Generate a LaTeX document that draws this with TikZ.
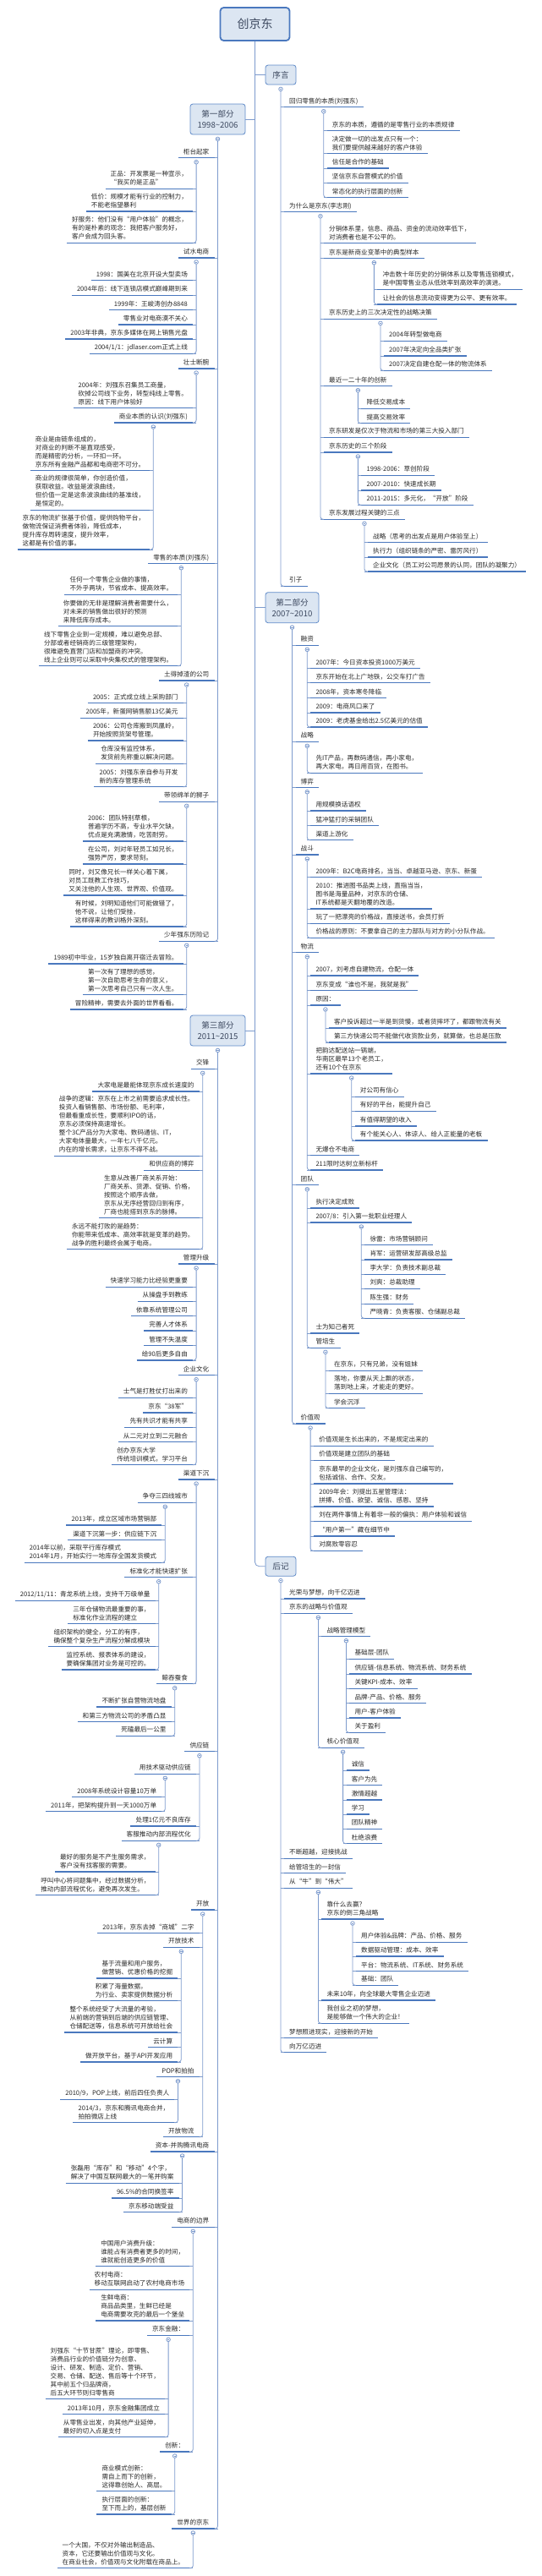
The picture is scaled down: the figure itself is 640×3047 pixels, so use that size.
\documentclass[tikz,border=0pt]{standalone}
\usepackage{fontspec}
\setmainfont{Noto Sans CJK SC}
\usetikzlibrary{calc}
\definecolor{ulc}{RGB}{74,120,190}
\definecolor{cnc}{RGB}{125,155,205}
\definecolor{txt}{RGB}{40,40,40}
\definecolor{boxfill}{RGB}{220,230,242}
\definecolor{boxdraw}{RGB}{95,138,200}
\definecolor{boxtext}{RGB}{60,72,95}
\tikzset{
  topic/.style={font=\fontsize{7.6}{10}\selectfont, text=txt, inner xsep=6pt, inner ysep=2.9pt, text depth=1.6pt, align=left},
  ul/.style={draw=ulc, line width=1.5pt},
  conn/.style={draw=cnc, line width=0.8pt},
  mainbox/.style={draw=boxdraw, fill=boxfill, line width=0.8pt, rounded corners=3pt, font=\fontsize{9.6}{12.7}\selectfont, text=boxtext, align=center, inner sep=0pt},
  rootbox/.style={draw=ulc, fill=boxfill, line width=1.8pt, rounded corners=4pt, font=\fontsize{14}{16}\selectfont, text=boxtext, inner sep=0pt}
}
\newcommand\myR[4]{%
  \coordinate (tmpy) at (0,-#3);
  \node[topic, anchor=south west] (#1) at ($(#2.south |- tmpy)+(4,0)$) {#4};
  \draw[ul] (#1.south west) -- (#1.south east);
  \draw[conn] (#1.south west) -- ++(-4,0);
}
\newcommand\myL[4]{%
  \coordinate (tmpy) at (0,-#3);
  \node[topic, anchor=south east] (#1) at ($(#2.south |- tmpy)+(-4,0)$) {#4};
  \draw[ul] (#1.south west) -- (#1.south east);
  \draw[conn] (#1.south east) -- ++(4,0);
}
\newcommand\myCirc[1]{%
  \draw[conn, fill=white] ($(#1.south)+(0,-5)$) circle (2.3);
  \draw[conn, line width=0.5pt] ($(#1.south)+(-1.2,-5)$) -- ++(2.4,0);
}
\newcommand\myVR[2]{%
  \draw[conn, rounded corners=3pt] ($(#1.south)+(0,-7.3)$) |- (#2.south west);
  \myCirc{#1}
}
\newcommand\myVL[2]{%
  \draw[conn, rounded corners=3pt] ($(#1.south)+(0,-7.3)$) |- (#2.south east);
  \myCirc{#1}
}
\begin{document}
\begin{tikzpicture}[x=1pt,y=1pt]
\fill[white] (0,0) rectangle (640,-3047);
\useasboundingbox (0,0) rectangle (640,-3047);

% main boxes
\node[rootbox, minimum width=82pt, minimum height=39pt] (root) at (301.5,-28.5) {创京东};
\node[mainbox, minimum width=36pt, minimum height=23pt] (xuyan) at (332,-88.5) {序言};
\node[mainbox, minimum width=65pt, minimum height=36pt] (p1) at (257.5,-141) {第一部分\\1998\textasciitilde2006};
\node[mainbox, minimum width=63pt, minimum height=36pt] (p2) at (345.5,-718.7) {第二部分\\2007\textasciitilde2010};
\node[mainbox, minimum width=65pt, minimum height=36pt] (p3) at (257.5,-1219) {第三部分\\2011\textasciitilde2015};
\node[mainbox, minimum width=36pt, minimum height=23pt] (hj) at (332,-1852.7) {后记};

% trunk
\draw[conn, rounded corners=5pt] (root.south) |- (hj.west);
\draw[conn] (xuyan.west) -- (xuyan.west -| root.south);
\draw[conn] (p1.east) -- (p1.east -| root.south);
\draw[conn] (p2.west) -- (p2.west -| root.south);
\draw[conn] (p3.east) -- (p3.east -| root.south);

% ===== 序言 =====
\myR{a1}{xuyan}{126.7}{回归零售的本质(刘强东)}
 \myR{a11}{a1}{154.7}{京东的本质，遵循的是零售行业的本质规律}
 \myR{a12}{a1}{181.7}{决定做一切的出发点只有一个：\\我们要提供越来越好的客户体验}
 \myR{a13}{a1}{199}{信任是合作的基础}
 \myR{a14}{a1}{216.3}{坚信京东自营模式的价值}
 \myR{a15}{a1}{233.7}{常态化的执行层面的创新}
 \myVR{a1}{a15}
\myR{a2}{xuyan}{250.7}{为什么是京东(李志刚)}
 \myR{a21}{a2}{287.7}{分销体系里，信息、商品、资金的流动效率低下，\\对消费者也是不公平的。}
 \myR{a22}{a2}{305.7}{京东是新商业变革中的典型样本}
  \myR{a221}{a22}{342.3}{冲击数十年历史的分销体系以及零售连锁模式，\\是中国零售业态从低效率到高效率的演进。}
  \myR{a222}{a22}{360}{让社会的信息流动变得更为公平、更有效率。}
  \myVR{a22}{a222}
 \myR{a23}{a2}{377.3}{京东历史上的三次决定性的战略决策}
  \myR{a231}{a23}{403.3}{2004年转型做电商}
  \myR{a232}{a23}{421}{2007年决定向全品类扩张}
  \myR{a233}{a23}{438.3}{2007决定自建仓配一体的物流体系}
  \myVR{a23}{a233}
 \myR{a24}{a2}{456.7}{最近一二十年的创新}
  \myR{a241}{a24}{483.3}{降低交易成本}
  \myR{a242}{a24}{500.7}{提高交易效率}
  \myVR{a24}{a242}
 \myR{a25}{a2}{517.3}{京东研发是仅次于物流和市场的第三大投入部门}
 \myR{a26}{a2}{535}{京东历史的三个阶段}
  \myR{a261}{a26}{562.3}{1998-2006：草创阶段}
  \myR{a262}{a26}{580}{2007-2010：快速成长期}
  \myR{a263}{a26}{597.3}{2011-2015：多元化，“开放”阶段}
  \myVR{a26}{a263}
 \myR{a27}{a2}{614.3}{京东发展过程关键的三点}
  \myR{a271}{a27}{641.7}{战略（思考的出发点是用户体验至上）}
  \myR{a272}{a27}{659}{执行力（组织链条的严密、雷厉风行）}
  \myR{a273}{a27}{676}{企业文化（员工对公司愿景的认同，团队的凝聚力）}
  \myVR{a27}{a273}
 \myVR{a2}{a27}
\myR{a3}{xuyan}{693.3}{引子}
\myVR{xuyan}{a3}

% ===== 第二部分 =====
\myR{b1}{p2}{763.3}{融资}
 \myR{b11}{b1}{790.7}{2007年：今日资本投资1000万美元}
 \myR{b12}{b1}{807.7}{京东开始在北上广地铁，公交车打广告}
 \myR{b13}{b1}{825.7}{2008年，资本寒冬降临}
 \myR{b14}{b1}{843}{2009：电商风口来了}
 \myR{b15}{b1}{860}{2009：老虎基金给出2.5亿美元的估值}
 \myVR{b1}{b15}
\myR{b2}{p2}{877.3}{战略}
 \myR{b21}{b2}{914.3}{先IT产品，再数码通信，再小家电，\\再大家电，再日用百货，在图书。}
 \myVR{b2}{b21}
\myR{b3}{p2}{931.7}{博弈}
 \myR{b31}{b3}{959}{用规模换话语权}
 \myR{b32}{b3}{976.7}{猛冲猛打的采销团队}
 \myR{b33}{b3}{993.7}{渠道上游化}
 \myVR{b3}{b33}
\myR{b4}{p2}{1011}{战斗}
 \myR{b41}{b4}{1037.7}{2009年：B2C电商排名，当当、卓越亚马逊、京东、新蛋}
 \myR{b42}{b4}{1075}{2010：推进图书品类上线，直指当当，\\图书是海量品种，对京东的仓储、\\IT系统都是天翻地覆的改造。}
 \myR{b43}{b4}{1092.3}{玩了一把漂亮的价格战，直接送书，会员打折}
 \myR{b44}{b4}{1109.3}{价格战的原则：不要拿自己的主力部队与对方的小分队作战。}
 \myVR{b4}{b44}
\myR{b5}{p2}{1126.7}{物流}
 \myR{b51}{b5}{1154}{2007，刘考虑自建物流，仓配一体}
 \myR{b52}{b5}{1171.7}{京东变成“谁也不是，我就是我”}
 \myR{b53}{b5}{1189}{原因：}
  \myR{b531}{b53}{1216}{客户投诉超过一半是到货慢，或者货摔坏了，都跟物流有关}
  \myR{b532}{b53}{1233}{第三方快递公司不能做代收货款业务，就算做，也总是压款}
  \myVR{b53}{b532}
 \myR{b54}{b5}{1270}{把韵达配送站一锅端，\\华南区最早13个老员工，\\还有10个在京东}
  \myR{b541}{b54}{1297.3}{对公司有信心}
  \myR{b542}{b54}{1314.3}{有好的平台，能提升自己}
  \myR{b543}{b54}{1332}{有值得期望的收入}
  \myR{b544}{b54}{1349}{有个能关心人、体谅人、给人正能量的老板}
  \myVR{b54}{b544}
 \myR{b55}{b5}{1366.7}{无爆仓不电商}
 \myR{b56}{b5}{1384}{211限时达树立新标杆}
 \myVR{b5}{b56}
\myR{b6}{p2}{1401.7}{团队}
 \myR{b61}{b6}{1429}{执行决定成败}
 \myR{b62}{b6}{1446}{2007/8：引入第一批职业经理人}
  \myR{b621}{b62}{1472.7}{徐雷：市场营销顾问}
  \myR{b622}{b62}{1490}{肖军：运营研发部高级总监}
  \myR{b623}{b62}{1507.3}{李大学：负责技术副总裁}
  \myR{b624}{b62}{1524.3}{刘爽：总裁助理}
  \myR{b625}{b62}{1542.3}{陈生强：财务}
  \myR{b626}{b62}{1559.3}{严晓青：负责客服、仓储副总裁}
  \myVR{b62}{b626}
 \myR{b63}{b6}{1577}{士为知己者死}
 \myR{b64}{b6}{1594.3}{管培生}
  \myR{b641}{b64}{1621.3}{在京东，只有兄弟，没有姐妹}
  \myR{b642}{b64}{1648.3}{落地，你要从天上飘的状态，\\落到地上来，才能走的更好。}
  \myR{b643}{b64}{1665.7}{学会沉浮}
  \myVR{b64}{b643}
 \myVR{b6}{b64}
\myR{b7}{p2}{1684}{价值观}
 \myR{b71}{b7}{1710.3}{价值观是生长出来的，不是规定出来的}
 \myR{b72}{b7}{1727.3}{价值观是建立团队的基础}
 \myR{b73}{b7}{1755}{京东最早的企业文化，是刘强东自己编写的，\\包括诚信、合作、交友。}
 \myR{b74}{b7}{1782}{2009年会：刘提出五星管理法：\\拼搏、价值、欲望、诚信、感恩、坚持}
 \myR{b75}{b7}{1799.3}{刘在两件事情上有着非一般的偏执：用户体验和诚信}
 \myR{b76}{b7}{1817}{“用户第一”藏在细节中}
 \myR{b77}{b7}{1834.3}{对腐败零容忍}
 \myVR{b7}{b77}
\myVR{p2}{b7}

% ===== 后记 =====
\myR{c1}{hj}{1891}{光荣与梦想，向千亿迈进}
\myR{c2}{hj}{1908.3}{京东的战略与价值观}
 \myR{c21}{c2}{1935.7}{战略管理模型}
  \myR{c211}{c21}{1962.3}{基础层-团队}
  \myR{c212}{c21}{1980}{供应链-信息系统、物流系统、财务系统}
  \myR{c213}{c21}{1997.3}{关键KPI-成本、效率}
  \myR{c214}{c21}{2014.7}{品牌-产品、价格、服务}
  \myR{c215}{c21}{2032}{用户-客户体验}
  \myR{c216}{c21}{2049.3}{关于盈利}
  \myVR{c21}{c216}
 \myR{c22}{c2}{2067.3}{核心价值观}
  \myR{c221}{c22}{2094}{诚信}
  \myR{c222}{c22}{2111.7}{客户为先}
  \myR{c223}{c22}{2129}{激情超越}
  \myR{c224}{c22}{2146}{学习}
  \myR{c225}{c22}{2163.3}{团队精神}
  \myR{c226}{c22}{2180.7}{杜绝浪费}
  \myVR{c22}{c226}
 \myVR{c2}{c22}
\myR{c3}{hj}{2198.3}{不断超越，迎接挑战}
\myR{c4}{hj}{2215.7}{给管培生的一封信}
\myR{c5}{hj}{2233.3}{从“牛”到“伟大”}
 \myR{c51}{c5}{2270}{靠什么去赢？\\京东的倒三角战略}
  \myR{c511}{c51}{2297.3}{用户体验\&品牌：产品、价格、服务}
  \myR{c512}{c51}{2314}{数据驱动管理：成本、效率}
  \myR{c513}{c51}{2331.7}{平台：物流系统、IT系统、财务系统}
  \myR{c514}{c51}{2348.3}{基础：团队}
  \myVR{c51}{c514}
 \myR{c52}{c5}{2366}{未来10年，向全球最大零售企业迈进}
 \myR{c53}{c5}{2393.3}{我创业之初的梦想，\\是能够做一个伟大的企业！}
 \myVR{c5}{c53}
\myR{c6}{hj}{2410.7}{梦想照进现实，迎接新的开始}
\myR{c7}{hj}{2427.7}{向万亿迈进}
\myVR{hj}{c7}

% ===== 第一部分 =====
\myL{d1}{p1}{186.7}{柜台起家}
 \myL{d11}{d1}{223.3}{正品：开发票是一种宣示，\\“我买的是正品”}
 \myL{d12}{d1}{250}{低价：规模才能有行业的控制力，\\不能老指望暴利}
 \myL{d13}{d1}{287.3}{好服务：他们没有“用户体验”的概念，\\有的是朴素的观念：我把客户服务好，\\客户会成为回头客。}
 \myVL{d1}{d13}
\myL{d2}{p1}{305}{试水电商}
 \myL{d21}{d2}{331.7}{1998：国美在北京开设大型卖场}
 \myL{d22}{d2}{349.3}{2004年后：线下连锁店模式巅峰期到来}
 \myL{d23}{d2}{366.7}{1999年：王峻涛创办8848}
 \myL{d24}{d2}{384}{零售业对电商漠不关心}
 \myL{d25}{d2}{401}{2003年非典，京东多媒体在网上销售光盘}
 \myL{d26}{d2}{418.3}{2004/1/1：jdlaser.com正式上线}
 \myVL{d2}{d26}
\myL{d3}{p1}{436}{壮士断腕}
 \myL{d31}{d3}{482.7}{2004年：刘强东召集员工商量，\\砍掉公司线下业务，转型纯线上零售。\\原因：线下用户体验好}
 \myL{d32}{d3}{500}{商业本质的认识(刘强东)}
  \myL{d321}{d32}{556.7}{商业是由链条组成的，\\对商业的判断不是直观感受，\\而是精密的分析，一环扣一环。\\京东所有金融产品都和电商密不可分。}
  \myL{d322}{d32}{603.3}{商业的规律很简单，你创造价值，\\获取收益。收益是波浪曲线，\\但价值一定是这条波浪曲线的基准线，\\是恒定的。}
  \myL{d323}{d32}{650}{京东的物流扩张基于价值，提供购物平台，\\做物流保证消费者体验，降低成本，\\提升库存周转速度，提升效率，\\这都是有价值的事。}
  \myVL{d32}{d323}
 \myVL{d3}{d32}
\myL{d4}{p1}{666.7}{零售的本质(刘强东)}
 \myL{d41}{d4}{703.3}{任何一个零售企业做的事情，\\不外乎两块，节省成本、提高效率。}
 \myL{d42}{d4}{740.7}{你要做的无非是理解消费者需要什么，\\对未来的销售做出很好的预测\\来降低库存成本。}
 \myL{d43}{d4}{787.7}{线下零售企业到一定规模，难以避免总部、\\分部或者经销商的三级管理架构，\\很难避免直营门店和加盟商的冲突。\\线上企业则可以采取中央集权式的管理架构。}
 \myVL{d4}{d43}
\myL{d5}{p1}{805}{土得掉渣的公司}
 \myL{d51}{d5}{831.7}{2005：正式成立线上采购部门}
 \myL{d52}{d5}{849.3}{2005年，新蛋网销售额13亿美元}
 \myL{d53}{d5}{876}{2006：公司仓库搬到凤凰岭，\\开始按照货架号管理。}
 \myL{d54}{d5}{903.3}{仓库没有监控体系，\\发货前先称重以解决问题。}
 \myL{d55}{d5}{930.7}{2005：刘强东亲自参与开发\\新的库存管理系统}
 \myVL{d5}{d55}
\myL{d6}{p1}{948.3}{带领绵羊的狮子}
 \myL{d61}{d6}{995}{2006：团队特别草根，\\普遍学历不高，专业水平欠缺，\\优点是充满激情，吃苦耐劳。}
 \myL{d62}{d6}{1022}{在公司，刘对年轻员工如兄长，\\强势严厉，要求苛刻。}
 \myL{d63}{d6}{1059}{同时，刘又像兄长一样关心着下属，\\对员工既教工作技巧，\\又关注他的人生观、世界观、价值观。}
 \myL{d64}{d6}{1096}{有时候，刘明知道他们可能做错了，\\他不说，让他们受挫，\\这样得来的教训格外深刻。}
 \myVL{d6}{d64}
\myL{d7}{p1}{1113.3}{少年强东历险记}
 \myL{d71}{d7}{1140}{1989初中毕业，15岁独自离开宿迁去冒险。}
 \myL{d72}{d7}{1176.7}{第一次有了理想的感觉，\\第一次自助思考生命的意义，\\第一次思考自己只有一次人生。}
 \myL{d73}{d7}{1194}{冒险精神，需要去外面的世界看看。}
 \myVL{d7}{d73}
\myVL{p1}{d7}

% ===== 第三部分 =====
\myL{e1}{p3}{1264.3}{交锋}
 \myL{e11}{e1}{1291}{大家电是最能体现京东成长速度的}
 \myL{e12}{e1}{1367.3}{战争的逻辑：京东在上市之前需要追求成长性。\\投资人看销售额、市场份额、毛利率，\\但最看重成长性，要顺利IPO的话，\\京东必须保持高速增长。\\整个3C产品分为大家电、数码通信、IT，\\大家电体量最大，一年七八千亿元。\\内在的增长需求，让京东不得不战。}
 \myL{e13}{e1}{1384.3}{和供应商的博弈}
 \myL{e14}{e1}{1440.7}{生意从改善厂商关系开始：\\厂商关系、货源、促销、价格，\\按照这个顺序去做，\\京东从无序经营回归到有序，\\厂商也能搭到京东的脉搏。}
 \myL{e15}{e1}{1477.7}{永远不能打败的是趋势：\\你能带来低成本、高效率就是变革的趋势。\\战争的胜利最终会属于电商。}
 \myVL{e1}{e15}
\myL{e2}{p3}{1495}{管理升级}
 \myL{e21}{e2}{1522.3}{快速学习能力比经验更重要}
 \myL{e22}{e2}{1539.3}{从操盘手到教练}
 \myL{e23}{e2}{1556.7}{依靠系统管理公司}
 \myL{e24}{e2}{1574}{完善人才体系}
 \myL{e25}{e2}{1591.7}{管理不失温度}
 \myL{e26}{e2}{1609}{给90后更多自由}
 \myVL{e2}{e26}
\myL{e3}{p3}{1626.7}{企业文化}
 \myL{e31}{e3}{1653.3}{士气是打胜仗打出来的}
 \myL{e32}{e3}{1671}{京东“38军”}
 \myL{e33}{e3}{1688.3}{先有共识才能有共享}
 \myL{e34}{e3}{1705.7}{从二元对立到二元融合}
 \myL{e35}{e3}{1732.7}{创办京东大学\\传统培训模式，学习平台}
 \myVL{e3}{e35}
\myL{e4}{p3}{1750}{渠道下沉}
 \myL{e41}{e4}{1777.3}{争夺三四线城市}
  \myL{e411}{e41}{1804}{2013年，成立区域市场营销部}
  \myL{e412}{e41}{1821.7}{渠道下沉第一步：供应链下沉}
  \myL{e413}{e41}{1848.3}{2014年以前，采取平行库存模式\\2014年1月，开始实行一地库存全国发货模式}
  \myVL{e41}{e413}
 \myL{e42}{e4}{1865.7}{标准化才能快速扩张}
  \myL{e421}{e42}{1893.3}{2012/11/11：青龙系统上线，支持千万级单量}
  \myL{e422}{e42}{1920.7}{三年仓储物流最重要的事，\\标准化作业流程的建立}
  \myL{e423}{e42}{1947.7}{组织架构的健全，分工的有序，\\确保整个复杂生产流程分解成模块}
  \myL{e424}{e42}{1975}{监控系统、报表体系的建设，\\要确保集团对业务是可控的。}
  \myVL{e42}{e424}
 \myL{e43}{e4}{1991.7}{鲸吞蚕食}
  \myL{e431}{e43}{2019}{不断扩张自营物流地盘}
  \myL{e432}{e43}{2036.7}{和第三方物流公司的矛盾凸显}
  \myL{e433}{e43}{2053.3}{死磕最后一公里}
  \myVL{e43}{e433}
 \myVL{e4}{e43}
\myL{e5}{p3}{2071.7}{供应链}
 \myL{e51}{e5}{2098.3}{用技术驱动供应链}
  \myL{e511}{e51}{2125.7}{2008年系统设计容量10万单}
  \myL{e512}{e51}{2142.7}{2011年，把架构提升到一天1000万单}
  \myVL{e51}{e512}
 \myL{e52}{e5}{2160}{处理1亿元不良库存}
 \myL{e53}{e5}{2177.3}{客服推动内部流程优化}
  \myL{e531}{e53}{2214}{最好的服务是不产生服务需求，\\客户没有找客服的需要。}
  \myL{e532}{e53}{2241.7}{呼叫中心将问题集中，经过数据分析，\\推动内部流程优化，避免再次发生。}
  \myVL{e53}{e532}
 \myVL{e5}{e53}
\myL{e6}{p3}{2259}{开放}
 \myL{e61}{e6}{2286.7}{2013年，京东去掉“商城”二字}
 \myL{e62}{e6}{2303.3}{开放技术}
  \myL{e621}{e62}{2340}{基于流量和用户服务，\\做营销、优惠价格的挖掘}
  \myL{e622}{e62}{2366.7}{积累了海量数据，\\为行业、卖家提供数据分析}
  \myL{e623}{e62}{2404}{整个系统经受了大流量的考验，\\从前端的营销到后端的供应链管理、\\仓储配送等，信息系统可开放给社会}
  \myL{e624}{e62}{2421.7}{云计算}
  \myL{e625}{e62}{2439}{做开放平台，基于API开发应用}
  \myVL{e62}{e625}
 \myL{e63}{e6}{2456.7}{POP和拍拍}
  \myL{e631}{e63}{2483.3}{2010/9，POP上线，前后四任负责人}
  \myL{e632}{e63}{2510.7}{2014/3，京东和腾讯电商合并，\\拍拍微店上线}
  \myVL{e63}{e632}
 \myL{e64}{e6}{2527.7}{开放物流}
 \myVL{e6}{e64}
\myL{e7}{p3}{2545}{资本-并购腾讯电商}
 \myL{e71}{e7}{2582.3}{张磊用“库存”和“移动”4个字，\\解决了中国互联网最大的一笔并购案}
 \myL{e72}{e7}{2600}{96.5\%的合同换签率}
 \myL{e73}{e7}{2616.7}{京东移动端受益}
 \myVL{e7}{e73}
\myL{e8}{p3}{2634.3}{电商的边界}
 \myL{e81}{e8}{2680.7}{中国用户消费升级：\\谁能占有消费者更多的时间，\\谁就能创造更多的价值}
 \myL{e82}{e8}{2708.3}{农村电商：\\移动互联网启动了农村电商市场}
 \myL{e83}{e8}{2745}{生鲜电商：\\商品品类里，生鲜已经是\\电商需要攻克的最后一个堡垒}
 \myL{e84}{e8}{2762.3}{京东金融：}
  \myL{e841}{e84}{2837.7}{刘强东“十节甘蔗”理论，即零售、\\消费品行业的价值链分为创意、\\设计、研发、制造、定价、营销、\\交易、仓储、配送、售后等十个环节，\\其中前五个归品牌商，\\后五大环节则归零售商}
  \myL{e842}{e84}{2855.7}{2013年10月，京东金融集团成立}
  \myL{e843}{e84}{2882.7}{从零售业出发，向其他产业延伸，\\最好的切入点是支付}
  \myVL{e84}{e843}
 \myL{e85}{e8}{2900}{创新：}
  \myL{e851}{e85}{2946.7}{商业模式创新：\\需自上而下的创新，\\这得靠创始人、高层。}
  \myL{e852}{e85}{2974}{执行层面的创新：\\至下而上的，基层创新}
  \myVL{e85}{e852}
 \myVL{e8}{e85}
\myL{e9}{p3}{2991}{世界的京东}
 \myL{e91}{e9}{3037.7}{一个大国，不仅对外输出制造品、\\资本，它还要输出价值观与文化。\\在商业社会，价值观与文化附载在商品上。}
 \myVL{e9}{e91}
\myVL{p3}{e9}
\end{tikzpicture}
\end{document}
